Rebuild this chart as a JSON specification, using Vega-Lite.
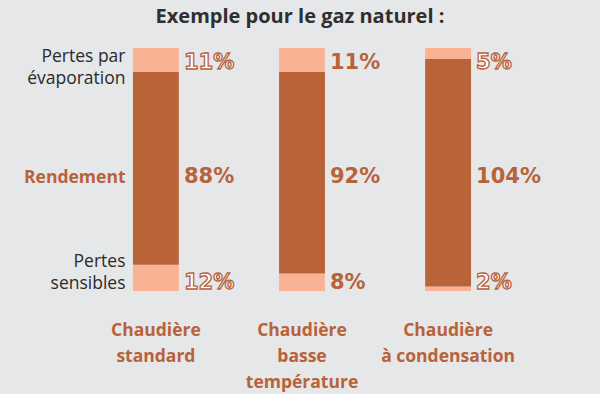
{
  "$schema": "https://vega.github.io/schema/vega-lite/v6.json",
  "autosize": {"type": "none"},
  "padding": {"left": 128, "top": 48, "right": 124, "bottom": 103},
  "width": 348,
  "height": 243,
  "background": "#e6e7e8",
  "config": {
    "view": {"stroke": null},
    "font": "Open Sans"
  },
  "title": {
    "text": "Exemple pour le gaz naturel :",
    "font": "Open Sans",
    "fontSize": 20,
    "fontWeight": "bold",
    "color": "#2f2f2f",
    "anchor": "middle",
    "frame": "group",
    "baseline": "alphabetic",
    "offset": 5,
    "dx": -2
  },
  "data": {
    "values": [
      {"cat": "Chaudière|standard", "seg": "Pertes sensibles", "ord": 1, "value": 12},
      {"cat": "Chaudière|standard", "seg": "Rendement", "ord": 2, "value": 88},
      {"cat": "Chaudière|standard", "seg": "Pertes par évaporation", "ord": 3, "value": 11},
      {"cat": "Chaudière|basse|température", "seg": "Pertes sensibles", "ord": 1, "value": 8},
      {"cat": "Chaudière|basse|température", "seg": "Rendement", "ord": 2, "value": 92},
      {"cat": "Chaudière|basse|température", "seg": "Pertes par évaporation", "ord": 3, "value": 11},
      {"cat": "Chaudière|à condensation", "seg": "Pertes sensibles", "ord": 1, "value": 2},
      {"cat": "Chaudière|à condensation", "seg": "Rendement", "ord": 2, "value": 104},
      {"cat": "Chaudière|à condensation", "seg": "Pertes par évaporation", "ord": 3, "value": 5}
    ]
  },
  "encoding": {
    "x": {
      "field": "cat",
      "type": "nominal",
      "sort": null,
      "scale": {"paddingInner": 0.686, "paddingOuter": 0.034},
      "axis": {
        "title": null,
        "labelAngle": 0,
        "domain": false,
        "ticks": false,
        "labelExpr": "split(datum.label, '|')",
        "labelFont": "Open Sans",
        "labelFontSize": 17.5,
        "labelFontWeight": "bold",
        "labelColor": "#b8623a",
        "labelLineHeight": 26,
        "labelPadding": 30,
        "labelBaseline": "top",
        "labelLimit": 300
      }
    }
  },
  "layer": [
    {
      "mark": {"type": "bar", "width": {"band": 1}},
      "encoding": {
        "y": {
          "field": "value",
          "type": "quantitative",
          "stack": "zero",
          "scale": {"domain": [0, 111], "nice": false},
          "axis": {
            "title": null,
            "grid": false,
            "domain": false,
            "ticks": false,
            "values": [106.9, 51.8, 13.5],
            "labelExpr": "datum.value > 100 ? ['Pertes par', 'évaporation'] : datum.value > 50 ? 'Rendement\u00a0\u00a0' : ['Pertes', 'sensibles']",
            "labelFont": "Open Sans",
            "labelFontSize": 17.5,
            "labelLineHeight": 22,
            "labelPadding": 3,
            "labelColor": {"condition": {"test": "datum.value > 50 && datum.value < 100", "value": "#b8623a"}, "value": "#2a2a2a"},
            "labelFontWeight": {"condition": {"test": "datum.value > 50 && datum.value < 100", "value": "bold"}, "value": "normal"},
            "labelLimit": 200
          }
        },
        "order": {"field": "ord", "type": "quantitative"},
        "color": {
          "field": "seg",
          "type": "nominal",
          "scale": {
            "domain": ["Pertes sensibles", "Rendement", "Pertes par évaporation"],
            "range": ["#f9b294", "#b96338", "#f9b294"]
          },
          "legend": null
        }
      }
    },
    {
      "transform": [
        {"calculate": "datum.ord == 3 ? 104.3 : datum.ord == 1 ? 3.6 : 52.1", "as": "ly"},
        {"calculate": "datum.value + '%'", "as": "lbl"}
      ],
      "mark": {
        "type": "text",
        "align": "left",
        "baseline": "middle",
        "dx": 28,
        "font": "DejaVu Sans",
        "fontSize": 21,
        "fontWeight": "bold",
        "strokeWidth": 1.3
      },
      "encoding": {
        "y": {"field": "ly", "type": "quantitative"},
        "text": {"field": "lbl"},
        "fill": {
          "condition": {"test": "datum.ord != 2 && indexof(datum.cat, 'basse') < 0", "value": "#ffffff"},
          "value": "#b8623a"
        },
        "stroke": {
          "condition": {"test": "datum.ord != 2 && indexof(datum.cat, 'basse') < 0", "value": "#b8623a"},
          "value": "transparent"
        }
      }
    }
  ]
}
